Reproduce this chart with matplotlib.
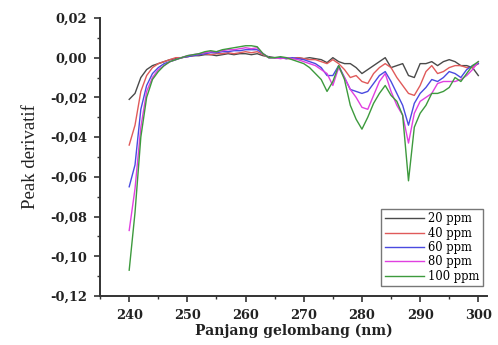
import matplotlib
matplotlib.use("Agg")
import matplotlib.pyplot as plt
from matplotlib.ticker import MultipleLocator, FuncFormatter

# wavelength (nm), 1 nm steps
wavelength = list(range(240, 301))

ppm20 = [-0.021, -0.018, -0.010, -0.006, -0.004, -0.003, -0.002, -0.001, -0.0005, 0.000,
         0.0005, 0.001, 0.001, 0.0015, 0.0015, 0.001, 0.0015, 0.002, 0.0015, 0.002,
         0.002, 0.0015, 0.002, 0.001, 0.0005, 0.000, 0.000, 0.000, -0.0005, 0.000,
         -0.0005, 0.000, -0.0005, -0.001, -0.0025, 0.000, -0.002, -0.003, -0.003, -0.005,
         -0.008, -0.006, -0.004, -0.002, 0.000, -0.005, -0.004, -0.003, -0.009, -0.010,
         -0.003, -0.003, -0.002, -0.004, -0.002, -0.001, -0.002, -0.004, -0.004, -0.005,
         -0.009]
ppm40 = [-0.044, -0.034, -0.017, -0.009, -0.005, -0.003, -0.002, -0.001, 0.000, 0.000,
         0.0005, 0.001, 0.0015, 0.002, 0.0015, 0.002, 0.002, 0.0025, 0.002, 0.0025,
         0.003, 0.0025, 0.003, 0.0015, 0.000, 0.000, 0.000, -0.0005, -0.0005, 0.000,
         -0.0005, -0.001, -0.001, -0.002, -0.003, -0.001, -0.003, -0.006, -0.010, -0.009,
         -0.012, -0.013, -0.008, -0.005, -0.003, -0.005, -0.010, -0.014, -0.018, -0.019,
         -0.014, -0.007, -0.004, -0.008, -0.007, -0.005, -0.004, -0.004, -0.005, -0.005,
         -0.003]
ppm60 = [-0.065, -0.054, -0.026, -0.014, -0.008, -0.005, -0.003, -0.002, -0.001, 0.000,
         0.0005, 0.001, 0.0015, 0.002, 0.0025, 0.0025, 0.003, 0.003, 0.0035, 0.0035,
         0.004, 0.004, 0.004, 0.002, 0.000, 0.000, 0.000, -0.0005, 0.000, -0.0005,
         -0.001, -0.002, -0.003, -0.005, -0.009, -0.009, -0.004, -0.010, -0.016, -0.017,
         -0.018, -0.017, -0.013, -0.009, -0.007, -0.012, -0.018, -0.024, -0.034, -0.023,
         -0.018, -0.015, -0.011, -0.012, -0.010, -0.007, -0.008, -0.010, -0.006, -0.004,
         -0.003]
ppm80 = [-0.087, -0.066, -0.035, -0.017, -0.010, -0.006, -0.004, -0.002, -0.001, 0.000,
         0.001, 0.0015, 0.002, 0.0025, 0.003, 0.003, 0.0035, 0.004, 0.004, 0.0045,
         0.005, 0.0045, 0.005, 0.002, 0.000, 0.000, -0.0005, 0.000, -0.0005, -0.001,
         -0.002, -0.003, -0.004, -0.006, -0.008, -0.014, -0.005, -0.010, -0.016, -0.020,
         -0.025, -0.026, -0.019, -0.012, -0.008, -0.017, -0.024, -0.029, -0.043, -0.028,
         -0.022, -0.020, -0.018, -0.013, -0.012, -0.012, -0.012, -0.011, -0.009, -0.006,
         -0.002]
ppm100 = [-0.107, -0.078, -0.040, -0.020, -0.011, -0.007, -0.004, -0.002, -0.001, 0.000,
          0.001, 0.0015, 0.002, 0.003, 0.0035, 0.003, 0.004, 0.0045, 0.005, 0.0055,
          0.006, 0.006, 0.0055, 0.002, 0.000, 0.000, 0.0005, 0.000, -0.001, -0.002,
          -0.003, -0.005, -0.008, -0.011, -0.017, -0.012, -0.004, -0.011, -0.024, -0.031,
          -0.036, -0.030, -0.023, -0.018, -0.014, -0.019, -0.022, -0.029, -0.062, -0.035,
          -0.028, -0.024, -0.018, -0.018, -0.017, -0.015, -0.010, -0.012, -0.008, -0.004,
          -0.002]

labels = ["20 ppm", "40 ppm", "60 ppm", "80 ppm", "100 ppm"]
series = [ppm20, ppm40, ppm60, ppm80, ppm100]
colors = ["#4a4a4a", "#e05a5a", "#4a4ae0", "#e040e0", "#3d9a3d"]

fig = plt.figure(figsize=(4.98, 3.45), dpi=100)
ax = fig.add_axes([0.201, 0.142, 0.777, 0.806])

for vals, lab, col in zip(series, labels, colors):
    ax.plot(wavelength, vals, color=col, lw=1.0, label=lab)

ax.set_xlim(235, 301.5)
ax.set_ylim(-0.12, 0.02)

for side in ("top", "right"):
    ax.spines[side].set_visible(False)
for side in ("left", "bottom"):
    ax.spines[side].set_linewidth(1.4)
    ax.spines[side].set_color("#333333")

ax.xaxis.set_major_locator(MultipleLocator(10))
ax.xaxis.set_minor_locator(MultipleLocator(5))
ax.yaxis.set_major_locator(MultipleLocator(0.02))
ax.yaxis.set_minor_locator(MultipleLocator(0.01))
ax.yaxis.set_major_formatter(FuncFormatter(lambda v, p: ("%.2f" % v).replace(".", ",").replace("-0,00", "0,00")))
ax.tick_params(which="major", direction="out", length=4.5, width=1.2, color="#333333", pad=5)
ax.tick_params(which="minor", direction="out", length=2.5, width=1.0, color="#333333")

tick_font = dict(family="DejaVu Serif", weight="bold", size=9.3)
for t in ax.get_xticklabels() + ax.get_yticklabels():
    t.set_fontfamily(tick_font["family"])
    t.set_fontweight(tick_font["weight"])
    t.set_fontsize(tick_font["size"])
    t.set_color("#222222")

ax.set_xlabel("Panjang gelombang (nm)", family="DejaVu Serif", weight="bold",
              fontsize=10, color="#222222", labelpad=1)
ax.set_ylabel("Peak derivatif", family="Liberation Serif", fontsize=13.5,
              color="#222222", labelpad=8)

leg = ax.legend(loc="lower right", bbox_to_anchor=(0.99, 0.035), borderaxespad=0,
                prop=dict(family="DejaVu Serif", size=8.3), fancybox=False,
                handlelength=3.4, handletextpad=0.4, labelspacing=0.12,
                borderpad=0.3, framealpha=1)
leg.get_frame().set_edgecolor("#777777")
leg.get_frame().set_linewidth(1.0)

fig.savefig("out.png", dpi=100)
